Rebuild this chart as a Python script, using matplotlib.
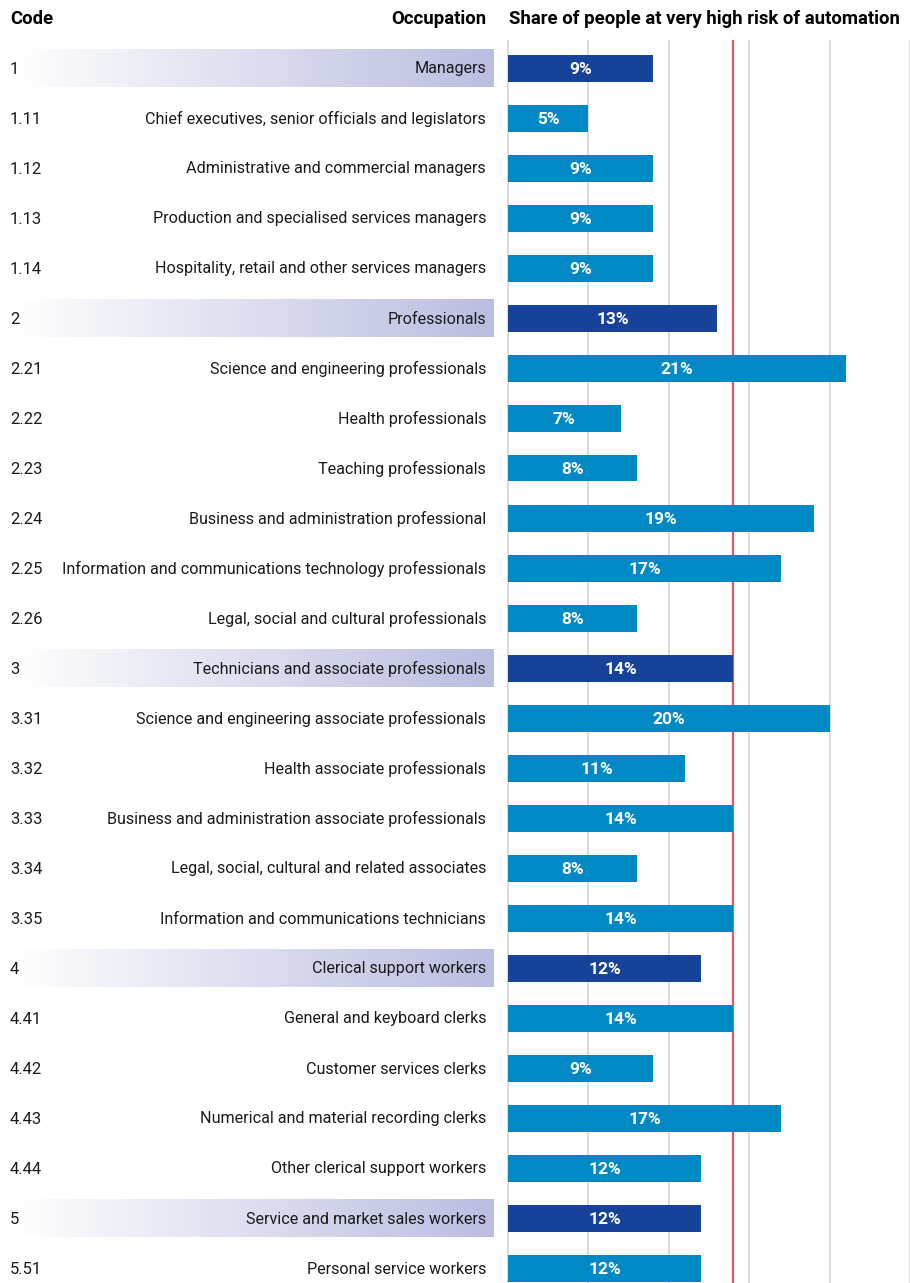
import numpy as np
import matplotlib.pyplot as plt
from matplotlib.colors import LinearSegmentedColormap

plt.rcParams['font.family'] = ['Roboto', 'DejaVu Sans']

codes = ["1", "1.11", "1.12", "1.13", "1.14",
         "2", "2.21", "2.22", "2.23", "2.24", "2.25", "2.26",
         "3", "3.31", "3.32", "3.33", "3.34", "3.35",
         "4", "4.41", "4.42", "4.43", "4.44",
         "5", "5.51"]
occupations = [
    "Managers",
    "Chief executives, senior officials and legislators",
    "Administrative and commercial managers",
    "Production and specialised services managers",
    "Hospitality, retail and other services managers",
    "Professionals",
    "Science and engineering professionals",
    "Health professionals",
    "Teaching professionals",
    "Business and administration professional",
    "Information and communications technology professionals",
    "Legal, social and cultural professionals",
    "Technicians and associate professionals",
    "Science and engineering associate professionals",
    "Health associate professionals",
    "Business and administration associate professionals",
    "Legal, social, cultural and related associates",
    "Information and communications technicians",
    "Clerical support workers",
    "General and keyboard clerks",
    "Customer services clerks",
    "Numerical and material recording clerks",
    "Other clerical support workers",
    "Service and market sales workers",
    "Personal service workers",
]
shares = [9, 5, 9, 9, 9, 13, 21, 7, 8, 19, 17, 8, 14, 20, 11, 14, 8, 14,
          12, 14, 9, 17, 12, 12, 12]
average = 14

W, H = 910, 1283
px_per_pct = 16.08
x0 = 508
fig = plt.figure(figsize=(W / 100, H / 100), dpi=100)
ax = fig.add_axes([0, 0, 1, (H - 40) / H])

def dx(px):
    return (px - x0) / px_per_pct

n = len(codes)
y = np.arange(n)
ax.axis('off')

for g in range(0, 30, 5):
    ax.axvline(g, color='#d3d3d3', lw=1.2, zorder=0)
ax.axvline(average, color='#e05c5c', lw=1.6, zorder=1)

is_group = ['.' not in c for c in codes]
colors = ['#17429a' if g else '#0089c5' for g in is_group]
ax.barh(y, shares, height=0.54, color=colors, zorder=2)

grad = np.linspace(0, 1, 256).reshape(1, -1)
cmap = LinearSegmentedColormap.from_list('band', ['#ffffff', '#babde0'])
for i in y:
    if is_group[i]:
        ax.imshow(grad, cmap=cmap, aspect='auto', extent=(dx(12), dx(494), i + 0.38, i - 0.38),
                  zorder=1, interpolation='bilinear')
    ty = i + 0.02
    ax.text(dx(10), ty, codes[i], ha='left', va='center', fontsize=12, color='#1a1a1a', zorder=3)
    ax.text(dx(486), ty, occupations[i], ha='right', va='center', fontsize=11.6, color='#1a1a1a', zorder=3)
    ax.text(shares[i] / 2, ty, f"{shares[i]}%", ha='center', va='center', fontsize=12.5,
            fontweight='bold', color='white', zorder=3)

ax.set_xlim(dx(0), dx(W))
ax.set_ylim((H - 68) / 50, -(68 - 40) / 50)

fig.text(10 / W, 1 - 19 / H, "Code", ha='left', va='center', fontsize=13.3, fontweight='bold')
fig.text(486 / W, 1 - 19 / H, "Occupation", ha='right', va='center', fontsize=13.3, fontweight='bold')
fig.text(509 / W, 1 - 19 / H, "Share of people at very high risk of automation", ha='left', va='center',
         fontsize=13.3, fontweight='bold')

fig.savefig('out.png', dpi=100)
